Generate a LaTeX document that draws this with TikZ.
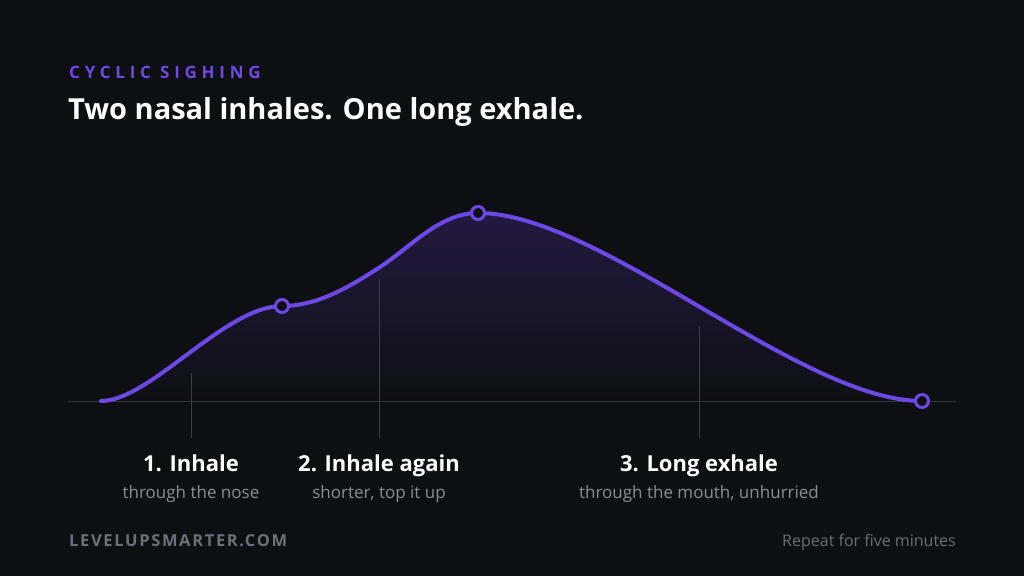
\documentclass[tikz,border=0pt]{standalone}
\usepackage{fontspec}
\setmainfont{Open Sans}
\newfontfamily\kickerfont[LetterSpace=28]{Open Sans}
\newfontfamily\brandfont[LetterSpace=10]{Open Sans}
\definecolor{bg}{HTML}{0E0F13}
\definecolor{accent}{HTML}{6E48E6}
\definecolor{fillpurple}{HTML}{221A40}
\definecolor{tick}{HTML}{3C3F47}
\definecolor{subgray}{HTML}{8B8E97}
\definecolor{footgray}{HTML}{6C6F78}
\tikzset{
  ticklin/.style={draw=tick, line width=1pt},
  stepmark/.style={circle, draw=accent, fill=bg, line width=3pt, minimum size=13pt, inner sep=0pt},
  steptitle/.style={text=white, font=\bfseries\fontsize{22}{26}\selectfont, inner sep=0pt, anchor=base},
  stepsub/.style={text=subgray, font=\fontsize{17}{20}\selectfont, inner sep=0pt, anchor=base},
}
\def\breathpath{(p0) .. controls (150,401) and (225,306) .. (p1)
  .. controls (315,306) and (345,290) .. (pm)
  .. controls (412,246) and (440,213) .. (p2)
  .. controls (600,213) and (800,401) .. (p3)}
\begin{document}
\begin{tikzpicture}[x=1pt,y=-1pt]
\fill[bg] (0,0) rectangle (1024,576);
\useasboundingbox (0,0) rectangle (1024,576);

% key points
\coordinate (p0) at (101,401);
\coordinate (p1) at (282,306);
\coordinate (pm) at (380,267);
\coordinate (p2) at (478,213);
\coordinate (p3) at (922,401);

% area fill
\shade[top color=fillpurple, bottom color=bg] \breathpath -- cycle;

% baseline
\coordinate (bl) at (68,401);
\coordinate (br) at (956,401);
\draw[draw=tick!85!black, line width=1pt] (bl) -- (br);

% ticks
\coordinate (t1a) at (191,373); \coordinate (t1b) at (191,438);
\coordinate (t2a) at (379,279); \coordinate (t2b) at (379,438);
\coordinate (t3a) at (699,326); \coordinate (t3b) at (699,438);
\draw[ticklin] (t1a) -- (t1b);
\draw[ticklin] (t2a) -- (t2b);
\draw[ticklin] (t3a) -- (t3b);

% curve
\draw[accent, line width=4pt, line cap=round] \breathpath;

\node[stepmark] (m1) at (p1) {};
\node[stepmark] (m2) at (p2) {};
\node[stepmark] (m3) at (p3) {};

% header
\node[anchor=base west, inner sep=0pt, text=accent, font=\kickerfont\bfseries\fontsize{17}{20}\selectfont] (kicker) at (69,78) {CYCLIC SIGHING};
\node[anchor=base west, inner sep=0pt, text=white, font=\bfseries\fontsize{29}{34}\selectfont] (title) at (68,119) {Two nasal inhales. One long exhale.};

% step labels
\node[steptitle] (s1) at (191,471) {1. Inhale};
\node[stepsub] (s1b) at (191,498) {through the nose};
\node[steptitle] (s2) at (379,471) {2. Inhale again};
\node[stepsub] (s2b) at (379,498) {shorter, top it up};
\node[steptitle] (s3) at (699,471) {3. Long exhale};
\node[stepsub] (s3b) at (699,498) {through the mouth, unhurried};

% footer
\node[anchor=base west, inner sep=0pt, text=footgray, font=\brandfont\bfseries\fontsize{16.5}{20}\selectfont] (brand) at (69,546) {LEVELUPSMARTER.COM};
\node[anchor=base east, inner sep=0pt, text=footgray, font=\fontsize{16}{19}\selectfont] (repeat) at (956,546) {Repeat for five minutes};
\end{tikzpicture}
\end{document}
